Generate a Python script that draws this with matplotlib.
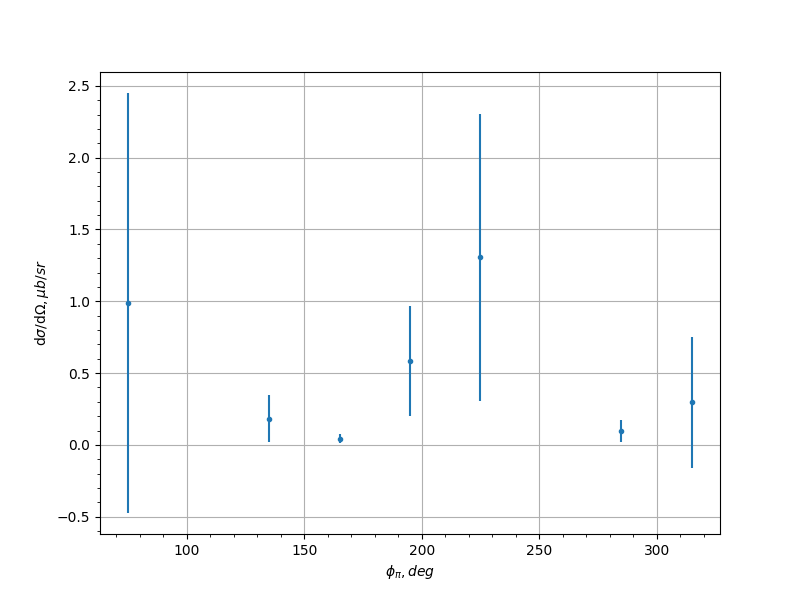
import matplotlib
matplotlib.use("Agg")
import matplotlib.pyplot as plt
from matplotlib.ticker import MultipleLocator

phi = [75, 135, 165, 195, 225, 285, 315]
xsec = [0.988, 0.182, 0.043, 0.586, 1.305, 0.097, 0.298]
xsec_err = [1.462, 0.163, 0.033, 0.384, 0.998, 0.075, 0.456]

fig, ax = plt.subplots(figsize=(8, 6), dpi=100)
ax.errorbar(phi, xsec, yerr=xsec_err, fmt=".", color="tab:blue")
ax.set_xlabel(r"$\phi_\pi, deg$")
ax.set_ylabel(r"d$\sigma$/d$\Omega, \mu b/sr$")
ax.xaxis.set_minor_locator(MultipleLocator(10))
ax.yaxis.set_minor_locator(MultipleLocator(0.1))
ax.grid(True)
fig.savefig("out.png")
